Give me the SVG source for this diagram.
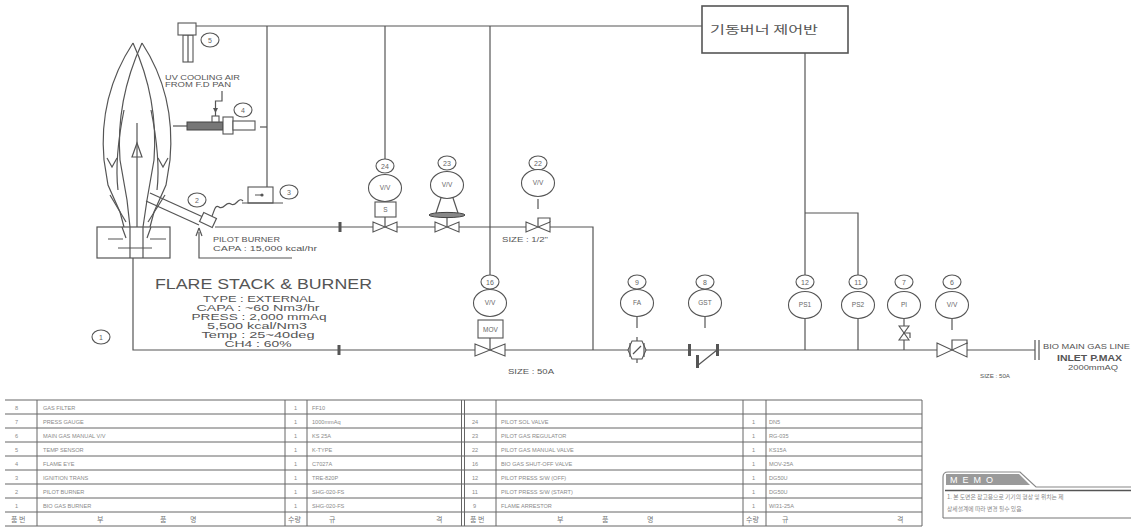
<svg xmlns="http://www.w3.org/2000/svg" width="1131" height="527" viewBox="0 0 1131 527">
<defs>
<style>
.ln{stroke:#555;stroke-width:1.2;fill:none}
.lf{stroke:#555;stroke-width:1.1;fill:#fff}
.dk{fill:#555;stroke:none}
.t{font-family:"Liberation Sans",Arial,sans-serif;fill:#555}
.tag{font-family:"Liberation Sans",Arial,sans-serif;fill:#666;font-size:6.5px;text-anchor:middle}
.lb{font-family:"Liberation Sans",Arial,sans-serif;fill:#666;font-size:7px;text-anchor:middle}
.tb{font-family:"Liberation Sans",Arial,sans-serif;fill:#8a8a8a;font-size:5.6px}
.kr{font-family:"Noto Sans CJK KR","Noto Sans",sans-serif;fill:#777;font-size:7px}
.grid{stroke:#666;stroke-width:1;fill:none}
</style>
<path id="bowtie" d="M-12,-5 L12,5 L12,-5 L-12,5 Z"/>
</defs>
<rect width="1131" height="527" fill="#fff"/>

<!-- piping and signal lines -->
<g id="connectors" class="ln">
  <path d="M196,26 H702"/>
  <path d="M267,26 V187"/>
  <path d="M260,127 H267"/>
  <path d="M385,26 V159"/>
  <path d="M490,26 V275"/>
  <path d="M805,53 V275"/>
  <path d="M805,213 H858 V275"/>
  <path d="M215,227 H593 V350"/>
  <path d="M133,258 V350 H1035"/>
  <path d="M805,319 V350"/>
  <path d="M858,319 V350"/>
  <path d="M904,319 V350"/>
  <path d="M199,232 V258 H292"/>
  <path d="M243,201 C238,196 236,208 231,204 C226,200 224,211 219,207 C215,204 214,212 212,216"/>
</g>

<!-- flare stack & burner -->
<g id="flare-stack">
  <g class="ln">
    <path d="M133,43 C112,75 100,115 104,160 L108,185 L120,212 L124,227"/>
    <path d="M142,43 C163,75 174,115 170,160 L166,185 L154,212 L150,227"/>
    <path d="M133,43 C150,80 157,120 154,160 L147,200 L143,227"/>
    <path d="M142,43 C125,80 117,120 120,160 L127,200 L130,227"/>
    <path d="M124,110 C118,140 115,165 118,190"/>
    <path d="M151,110 C157,140 160,165 157,190"/>
    <path d="M107,158 L112,167 L117,158"/>
    <path d="M158,158 L163,167 L168,158"/>
    <path d="M110,195 L126,222"/>
    <path d="M165,195 L148,222"/>
    <path d="M137,123 V227"/>
    <path d="M137,143 L132,157 L142,157 Z"/>
    <rect x="97" y="227" width="73" height="31"/>
    <path d="M130,227 V258 M143,227 V258"/>
    <path d="M108,239 H123 M150,239 H166 M118,248 H152"/>
    <path d="M122,227 L126,238 M151,227 L147,238"/>
  </g>
  <g class="t" font-size="15.5">
    <text x="155" y="289" textLength="217" lengthAdjust="spacingAndGlyphs">FLARE STACK  &amp; BURNER</text>
  </g>
  <g class="t" font-size="9.2" text-anchor="middle">
    <text x="259" y="302" textLength="112" lengthAdjust="spacingAndGlyphs">TYPE : EXTERNAL</text>
    <text x="258" y="311" textLength="123" lengthAdjust="spacingAndGlyphs">CAPA : ~60 Nm3/hr</text>
    <text x="259" y="320" textLength="135" lengthAdjust="spacingAndGlyphs">PRESS : 2,000 mmAq</text>
    <text x="257" y="329" textLength="100" lengthAdjust="spacingAndGlyphs">5,500 kcal/Nm3</text>
    <text x="258" y="338" textLength="113" lengthAdjust="spacingAndGlyphs">Temp : 25~40deg</text>
    <text x="258" y="347" textLength="67" lengthAdjust="spacingAndGlyphs">CH4 : 60%</text>
  </g>
  <ellipse class="lf" cx="101" cy="337" rx="9" ry="7"/>
  <text class="lb" x="101" y="339.5">1</text>
</g>

<!-- 2 pilot burner -->
<g id="pilot-burner">
  <g class="ln">
    <path d="M150,193 L203,217"/>
    <path d="M146,201 L199,225"/>
    <rect x="201" y="215" width="14" height="10" transform="rotate(25 208 220)" fill="#fff"/>
    <path d="M199,228 L196,236 M199,228 L202,236"/>
  </g>
  <text class="t" x="213" y="242" font-size="6.8" textLength="67" lengthAdjust="spacingAndGlyphs">PILOT BURNER</text>
  <text class="t" x="213" y="251" font-size="6.8" textLength="104" lengthAdjust="spacingAndGlyphs">CAPA : 15,000 kcal/hr</text>
  <ellipse class="lf" cx="197" cy="200" rx="9" ry="7"/>
  <text class="lb" x="197" y="202.5">2</text>
</g>

<!-- 3 ignition trans -->
<g id="ignition-trans">
  <rect class="lf" x="248" y="187" width="25" height="16"/>
  <path class="ln" d="M242,203 H283 M255,195 H261"/>
  <circle class="dk" cx="262" cy="195" r="1.6"/>
  <ellipse class="lf" cx="289" cy="192" rx="9" ry="7"/>
  <text class="lb" x="289" y="194.5">3</text>
</g>

<!-- 4 flame eye -->
<g id="flame-eye">
  <path class="ln" d="M173,126 H187"/>
  <rect x="187" y="122" width="36" height="8" fill="#777" stroke="#444" stroke-width="1"/>
  <rect class="lf" x="223" y="117" width="10" height="17"/>
  <rect class="lf" x="233" y="121" width="22" height="9"/>
  <rect class="lf" x="212" y="116" width="7" height="6"/>
  <path class="ln" d="M215.5,116 V101 H222 V91"/>
  <path class="dk" d="M213,108 L218,108 L215.5,113 Z"/>
  <text class="t" x="165" y="80" font-size="6.5" textLength="75" lengthAdjust="spacingAndGlyphs">UV COOLING AIR</text>
  <text class="t" x="165" y="87" font-size="6.5" textLength="66" lengthAdjust="spacingAndGlyphs">FROM F.D PAN</text>
  <ellipse class="lf" cx="243" cy="110" rx="9" ry="7"/>
  <text class="lb" x="243" y="112.5">4</text>
</g>

<!-- 5 temp sensor -->
<g id="temp-sensor">
  <rect class="lf" x="183" y="35" width="10" height="27"/>
  <path class="ln" d="M188,35 V62"/>
  <rect class="lf" x="178" y="23" width="18" height="12"/>
  <ellipse class="lf" cx="210" cy="40" rx="9" ry="7"/>
  <text class="lb" x="210" y="42.5">5</text>
</g>

<!-- burner control panel -->
<g id="control-panel">
  <rect x="702" y="6" width="146" height="47" fill="#fff" stroke="#555" stroke-width="1.6"/>
  <text x="710" y="34" font-family="Noto Sans CJK KR, Noto Sans, sans-serif" font-size="11.5" fill="#555" textLength="108" lengthAdjust="spacingAndGlyphs">기동버너 제어반</text>
</g>

<!-- pilot line flange -->
<g id="pilot-flange"><rect class="dk" x="338.5" y="222" width="3" height="10"/></g>

<!-- 24 pilot sol valve -->
<g id="v24">
  <ellipse class="lf" cx="385" cy="166" rx="9" ry="7"/>
  <text class="lb" x="385" y="168.5">24</text>
  <ellipse class="lf" cx="385" cy="188" rx="16.5" ry="13.5"/>
  <text class="tag" x="385" y="190.3">V/V</text>
  <rect class="lf" x="375" y="202" width="21" height="15"/>
  <text class="tag" x="385.5" y="212">S</text>
  <path class="ln" d="M385,217 V227"/>
  <use href="#bowtie" x="385" y="227" class="lf"/>
</g>

<!-- 23 pilot gas regulator -->
<g id="v23">
  <ellipse class="lf" cx="447" cy="163" rx="9" ry="7"/>
  <text class="lb" x="447" y="165.5">23</text>
  <ellipse class="lf" cx="447" cy="185" rx="16.5" ry="13.5"/>
  <text class="tag" x="447" y="187.3">V/V</text>
  <path class="ln" d="M441,198 L436,213 M453,198 L458,213 M447,215 V227"/>
  <ellipse cx="447" cy="215" rx="18" ry="2.6" fill="#888" stroke="#444" stroke-width="1"/>
  <use href="#bowtie" x="447" y="227" class="lf"/>
</g>

<!-- 22 pilot gas manual valve -->
<g id="v22">
  <ellipse class="lf" cx="538" cy="163" rx="9" ry="7"/>
  <text class="lb" x="538" y="165.5">22</text>
  <ellipse class="lf" cx="538" cy="183" rx="16.5" ry="13.5"/>
  <text class="tag" x="538" y="185.3">V/V</text>
  <path class="ln" d="M538,199 V209 M538,227 V218 H550 V222"/>
  <use href="#bowtie" x="538" y="227" class="lf"/>
  <text class="t" x="502" y="242" font-size="6.5" textLength="46" lengthAdjust="spacingAndGlyphs">SIZE : 1/2"</text>
</g>

<!-- main line flange -->
<g id="main-flange"><rect class="dk" x="337.5" y="345" width="3" height="10"/></g>

<!-- 16 bio gas shut-off valve -->
<g id="v16">
  <ellipse class="lf" cx="490" cy="282" rx="9" ry="7"/>
  <text class="lb" x="490" y="284.5">16</text>
  <ellipse class="lf" cx="490" cy="303" rx="16.5" ry="13.5"/>
  <text class="tag" x="490" y="305.3">V/V</text>
  <rect class="lf" x="478" y="320" width="25" height="18"/>
  <text class="tag" x="490.5" y="331.5">MOV</text>
  <path class="ln" d="M490,338 V350"/>
  <path class="lf" d="M475,344 L505,356 L505,344 L475,356 Z"/>
  <text class="t" x="508" y="374" font-size="6.5" textLength="46" lengthAdjust="spacingAndGlyphs">SIZE : 50A</text>
</g>

<!-- 9 flame arrestor -->
<g id="fa9">
  <ellipse class="lf" cx="637" cy="282" rx="9" ry="7"/>
  <text class="lb" x="637" y="284.5">9</text>
  <ellipse class="lf" cx="637" cy="303" rx="16.5" ry="13.5"/>
  <text class="tag" x="637" y="305.3">FA</text>
  <path class="ln" d="M637,317 V328"/>
  <path class="lf" d="M628,350 L632,341 L642,341 L646,350 L642,359 L632,359 Z"/>
  <path class="ln" d="M633,354 L641,346 M637,337 V341 M637,359 V363 M630,343 V357 M644,343 V357"/>
</g>

<!-- 8 gas temp sensor -->
<g id="gst8">
  <ellipse class="lf" cx="705" cy="282" rx="9" ry="7"/>
  <text class="lb" x="705" y="284.5">8</text>
  <ellipse class="lf" cx="705" cy="303" rx="16.5" ry="13.5"/>
  <text class="tag" x="705" y="305.3">GST</text>
  <path class="ln" d="M705,317 V328"/>
  <rect class="dk" x="688" y="344" width="3" height="12"/>
  <rect class="dk" x="716" y="344" width="3" height="12"/>
  <rect class="dk" x="696" y="355" width="3" height="13"/>
  <path class="ln" d="M697,366 L717,350"/>
</g>

<!-- 12 pilot press s/w (off) -->
<g id="ps12">
  <ellipse class="lf" cx="805" cy="282" rx="9" ry="7"/>
  <text class="lb" x="805" y="284.5">12</text>
  <ellipse class="lf" cx="805" cy="305" rx="16.5" ry="13.5"/>
  <text class="tag" x="805" y="307.3">PS1</text>
</g>

<!-- 11 pilot press s/w (start) -->
<g id="ps11">
  <ellipse class="lf" cx="858" cy="282" rx="9" ry="7"/>
  <text class="lb" x="858" y="284.5">11</text>
  <ellipse class="lf" cx="858" cy="305" rx="16.5" ry="13.5"/>
  <text class="tag" x="858" y="307.3">PS2</text>
</g>

<!-- 7 press gauge -->
<g id="pi7">
  <ellipse class="lf" cx="904" cy="282" rx="9" ry="7"/>
  <text class="lb" x="904" y="284.5">7</text>
  <ellipse class="lf" cx="904" cy="305" rx="16.5" ry="13.5"/>
  <text class="tag" x="904" y="307.3">PI</text>
  <path class="lf" d="M899,326 L909,340 L899,340 L909,326 Z"/>
  <path class="ln" d="M904,333 H910 V338"/>
</g>

<!-- 6 main gas manual valve -->
<g id="v6">
  <ellipse class="lf" cx="952" cy="282" rx="9" ry="7"/>
  <text class="lb" x="952" y="284.5">6</text>
  <ellipse class="lf" cx="952" cy="305" rx="16.5" ry="13.5"/>
  <text class="tag" x="952" y="307.3">V/V</text>
  <path class="ln" d="M952,319 V330"/>
  <path class="lf" d="M937,343 L967,357 L967,343 L937,357 Z"/>
  <path class="ln" d="M952,350 V340 H967 V344"/>
  <text class="t" x="980" y="378" font-size="6" textLength="30" lengthAdjust="spacingAndGlyphs">SIZE : 50A</text>
</g>

<!-- bio main gas line inlet -->
<g id="inlet">
  <path class="ln" d="M1035,340 V360 M1039,340 V360"/>
  <text class="t" x="1043" y="349" font-size="7" textLength="87" lengthAdjust="spacingAndGlyphs">BIO MAIN GAS LINE</text>
  <text class="t" x="1057" y="361" font-size="8.5" font-weight="bold" textLength="65" lengthAdjust="spacingAndGlyphs">INLET P.MAX</text>
  <text class="t" x="1068" y="370" font-size="7" textLength="50" lengthAdjust="spacingAndGlyphs">2000mmAQ</text>
</g>

<!-- parts list -->
<g id="parts-list">
  <g class="grid">
    <path d="M5,400 H922 M5,414 H922 M5,428 H922 M5,442 H922 M5,456 H922 M5,470 H922 M5,484 H922 M5,498 H922 M5,512 H922 M5,526 H922"/>
    <path d="M37,400 V526 M285,400 V526 M307,400 V526 M461.5,400 V526 M464.5,400 V526 M496,400 V526 M743,400 V526 M766,400 V526 M922,400 V526"/>
  </g>
  <g class="tb">
    <text x="15" y="409.5">8</text><text x="43" y="409.5">GAS FILTER</text><text x="294" y="409.5">1</text><text x="312" y="409.5">FF10</text>
    <text x="15" y="423.5">7</text><text x="43" y="423.5">PRESS GAUGE</text><text x="294" y="423.5">1</text><text x="312" y="423.5">1000mmAq</text>
    <text x="15" y="437.5">6</text><text x="43" y="437.5">MAIN GAS MANUAL V/V</text><text x="294" y="437.5">1</text><text x="312" y="437.5">KS 25A</text>
    <text x="15" y="451.5">5</text><text x="43" y="451.5">TEMP SENSOR</text><text x="294" y="451.5">1</text><text x="312" y="451.5">K-TYPE</text>
    <text x="15" y="465.5">4</text><text x="43" y="465.5">FLAME EYE</text><text x="294" y="465.5">1</text><text x="312" y="465.5">C7027A</text>
    <text x="15" y="479.5">3</text><text x="43" y="479.5">IGNITION TRANS</text><text x="294" y="479.5">1</text><text x="312" y="479.5">TRE-820P</text>
    <text x="15" y="493.5">2</text><text x="43" y="493.5">PILOT BURNER</text><text x="294" y="493.5">1</text><text x="312" y="493.5">SHG-020-FS</text>
    <text x="15" y="507.5">1</text><text x="43" y="507.5">BIO GAS BURNER</text><text x="294" y="507.5">1</text><text x="312" y="507.5">SHG-020-FS</text>

    <text x="472" y="423.5">24</text><text x="501" y="423.5">PILOT SOL VALVE</text><text x="752" y="423.5">1</text><text x="769" y="423.5">DN5</text>
    <text x="472" y="437.5">23</text><text x="501" y="437.5">PILOT GAS REGULATOR</text><text x="752" y="437.5">1</text><text x="769" y="437.5">RG-035</text>
    <text x="472" y="451.5">22</text><text x="501" y="451.5">PILOT GAS MANUAL VALVE</text><text x="752" y="451.5">1</text><text x="769" y="451.5">KS15A</text>
    <text x="472" y="465.5">16</text><text x="501" y="465.5">BIO GAS SHUT-OFF VALVE</text><text x="752" y="465.5">1</text><text x="769" y="465.5">MOV-25A</text>
    <text x="472" y="479.5">12</text><text x="501" y="479.5">PILOT PRESS S/W (OFF)</text><text x="752" y="479.5">1</text><text x="769" y="479.5">DG50U</text>
    <text x="472" y="493.5">11</text><text x="501" y="493.5">PILOT PRESS S/W (START)</text><text x="752" y="493.5">1</text><text x="769" y="493.5">DG50U</text>
    <text x="473" y="507.5">9</text><text x="501" y="507.5">FLAME ARRESTOR</text><text x="752" y="507.5">1</text><text x="769" y="507.5">WI31-25A</text>
  </g>
  <g class="kr">
    <text x="11" y="522">품 번</text>
    <text x="97" y="522">부</text><text x="160" y="522">품</text><text x="190" y="522">명</text>
    <text x="288" y="522">수량</text>
    <text x="329" y="522">규</text><text x="436" y="522">격</text>
    <text x="470" y="522">품 번</text>
    <text x="557" y="522">부</text><text x="602" y="522">품</text><text x="647" y="522">명</text>
    <text x="746" y="522">수량</text>
    <text x="782" y="522">규</text><text x="897" y="522">격</text>
  </g>
</g>

<!-- memo -->
<g id="memo">
  <path d="M943,518 V477 Q943,472 948,472 H1020 L1036,487 H1131" fill="none" stroke="#888" stroke-width="1.2"/>
  <path d="M946,474 H1019 L1030,485 H946 Z" fill="#9a9a9a"/>
  <text x="950" y="483" font-family="Liberation Sans, Arial, sans-serif" font-size="9" fill="#fff" letter-spacing="5">MEMO</text>
  <path d="M945,490.5 H1131" stroke="#555" stroke-width="1.6"/>
  <path d="M943,518 H1131" stroke="#777" stroke-width="1.2"/>
  <text x="947" y="499" font-family="Noto Sans CJK KR, Noto Sans, sans-serif" font-size="5.8" fill="#888">1. 본 도면은 참고용으로 기기의 형상 및 위치는 제</text>
  <text x="947" y="511" font-family="Noto Sans CJK KR, Noto Sans, sans-serif" font-size="5.8" fill="#888">상세설계에 따라 변경 될수 있음.</text>
</g>
</svg>
